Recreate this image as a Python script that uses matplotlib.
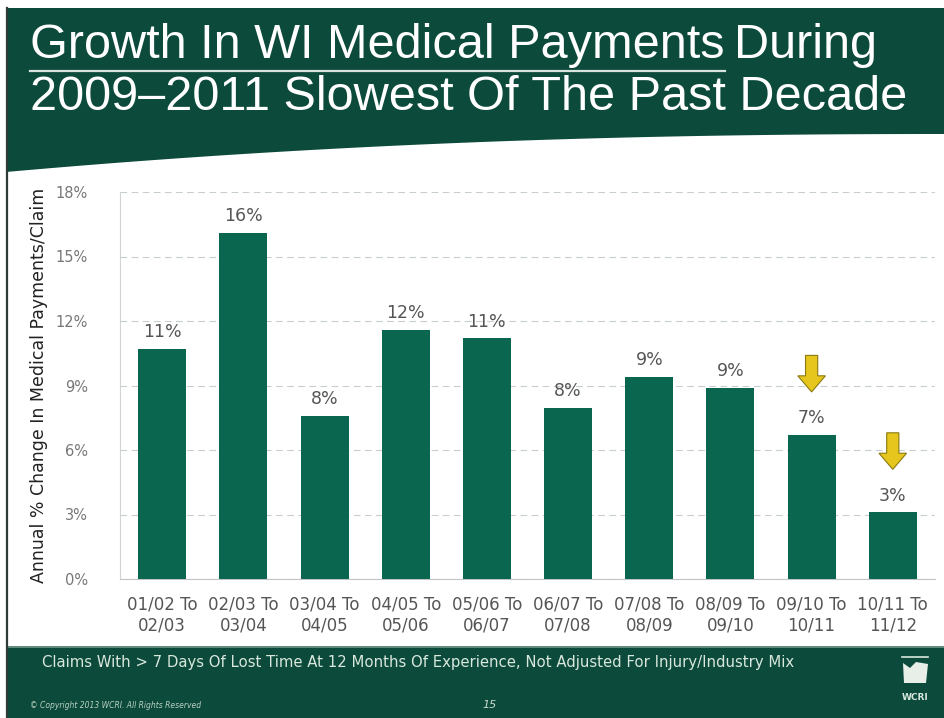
import numpy as np
import matplotlib
matplotlib.use('Agg')
import matplotlib.pyplot as plt
from matplotlib.patches import Polygon, Rectangle, FancyArrow

periods = ['01/02 To\n02/03', '02/03 To\n03/04', '03/04 To\n04/05', '04/05 To\n05/06',
           '05/06 To\n06/07', '06/07 To\n07/08', '07/08 To\n08/09', '08/09 To\n09/10',
           '09/10 To\n10/11', '10/11 To\n11/12']
pct_change = [10.7, 16.1, 7.6, 11.6, 11.2, 7.95, 9.4, 8.9, 6.7, 3.1]
flagged = [8, 9]   # bars marked with a down arrow
yticks = [0, 3, 6, 9, 12, 15, 18]

DARK = '#0c4a3b'
BAR = '#0b6650'
GRID = '#c8cdd0'

W, H = 944, 718
fig = plt.figure(figsize=(W / 100, H / 100), dpi=100)
fig.patch.set_facecolor('white')

# background layer in pixel coordinates
bg = fig.add_axes([0, 0, 1, 1])
bg.set_xlim(0, W); bg.set_ylim(H, 0); bg.axis('off')

# title banner with curved lower edge
xs = np.linspace(6, W, 60)
t = (xs - 6) / (W - 6)
ys = 134 + 38 * (1 - t) ** 2.2
banner = [(6, 8), (W, 8)] + list(zip(xs[::-1], ys[::-1]))
bg.add_patch(Polygon(banner, closed=True, color=DARK, lw=0))
# slide border on the left
bg.plot([7, 7], [8, H], color='#2e3b36', lw=1.6)

# footer band
bg.add_patch(Rectangle((6, 648), W - 6, H - 648, color=DARK, lw=0))
bg.add_patch(Rectangle((6, 646), W - 6, 2, color='#5f8a7c', lw=0))

title_font = ['Liberation Sans', 'DejaVu Sans']
t1 = bg.text(30, 46, 'Growth In WI Medical Payments', color='white', fontsize=35,
             family=title_font, va='center', ha='left')
fig.canvas.draw()
r = fig.canvas.get_renderer()
bb = t1.get_window_extent(r)
x_end = bb.x1
bg.text(x_end + 10, 46, 'During', color='white', fontsize=35, family=title_font,
        va='center', ha='left')
bg.plot([30, x_end], [71, 71], color='#d8e3de', lw=1.6)
bg.text(30, 98, '2009\u20132011 Slowest Of The Past Decade', color='white', fontsize=35,
        family=title_font, va='center', ha='left')

bg.text(42, 663, 'Claims With > 7 Days Of Lost Time At 12 Months Of Experience, '
        'Not Adjusted For Injury/Industry Mix', color='#d9e8dd', fontsize=10.7,
        va='center', ha='left')
bg.text(30, 706, '\u00a9 Copyright 2013 WCRI. All Rights Reserved', color='#b9d0c2',
        fontsize=5.5, va='center', ha='left', style='italic')
bg.text(490, 705, '15', color='#c9dccf', fontsize=8, va='center', ha='center',
        style='italic')
bg.text(915, 697, 'WCRI', color='#d9e8dd', fontsize=6.5, va='center', ha='center',
        fontweight='bold')
bg.plot([902, 928], [657, 657], color='#d9e8dd', lw=1.2)
bg.add_patch(Polygon([(903, 663), (910, 668), (916, 662), (928, 664), (926, 683),
                      (904, 683)], closed=True, color='#e8efe9', lw=0))

# chart
ax = fig.add_axes([120 / W, 1 - 579 / H, (935 - 120) / W, (579 - 192) / H])
x = np.arange(len(pct_change))
ax.bar(x, pct_change, width=0.59, color=BAR, zorder=3)
for i, v in enumerate(pct_change):
    ax.annotate(f'{v:.0f}%', (i, v), xytext=(0, 12), textcoords='offset points',
                ha='center', va='center', fontsize=12.5, color='#555555')
for i in flagged:
    v = pct_change[i]
    ax.add_patch(FancyArrow(i, v + 3.7, 0, -1.7, width=0.15, head_width=0.34,
                            head_length=0.75, length_includes_head=True,
                            facecolor='#e6c61c', edgecolor='#8a7a10', lw=0.8, zorder=4))

ax.set_xlim(-0.52, 9.52)
ax.set_ylim(0, 18)
ax.set_yticks(yticks)
ax.set_yticklabels([f'{v}%' for v in yticks])
ax.set_xticks(x)
ax.set_xticklabels(periods, linespacing=1.2)
ax.tick_params(axis='y', length=0, pad=23, labelsize=10.5, labelcolor='#777777')
ax.tick_params(axis='x', length=0, pad=12, labelsize=12, labelcolor='#555555')
ax.grid(axis='y', color=GRID, ls=(0, (6, 4)), lw=0.8, zorder=0)
for s in ['top', 'right']:
    ax.spines[s].set_visible(False)
ax.spines['left'].set_color('#d0d4d6')
ax.spines['bottom'].set_color('#c0c4c6')
ax.set_ylabel('Annual % Change In Medical Payments/Claim', fontsize=12.5,
              color='#222222')
ax.yaxis.set_label_coords(-0.088, 0.5)

fig.savefig('out.png', dpi=100)
